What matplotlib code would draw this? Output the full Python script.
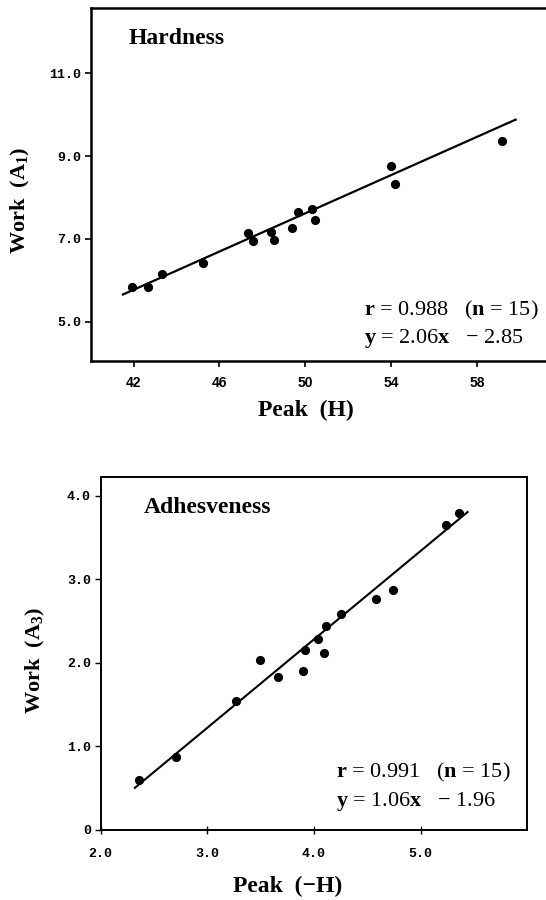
import numpy as np
import matplotlib
matplotlib.use("Agg")
import matplotlib.pyplot as plt

plt.rcParams['font.family'] = ['Liberation Serif', 'DejaVu Serif']
plt.rcParams['mathtext.fontset'] = 'custom'
plt.rcParams['mathtext.rm'] = 'Liberation Serif:bold'
plt.rcParams['mathtext.it'] = 'Liberation Serif:bold'
plt.rcParams['mathtext.bf'] = 'Liberation Serif:bold'

# ---------------- data: Hardness ----------------
hard_peak = [41.92, 42.68, 43.30, 45.24, 47.35, 47.56, 48.41, 48.52,
             49.40, 49.67, 50.33, 50.44, 54.00, 54.20, 59.17]
hard_work = [5.83, 5.85, 6.16, 6.42, 7.14, 6.96, 7.17, 6.97,
             7.26, 7.64, 7.72, 7.46, 8.77, 8.34, 9.36]
hard_fit_slope = 0.231
hard_fit_icpt = -3.93
hard_fit_range = [41.5, 59.8]
hard_xticks = [42, 46, 50, 54, 58]
hard_yticks = [5.0, 7.0, 9.0, 11.0]
hard_label = "Hardness"
hard_stats = [r"$\mathbf{r}$ = 0.988   ($\mathbf{n}$ = 15)",
              "$\\mathbf{y}$ = 2.06$\\mathbf{x}$   \u2212 2.85"]

# ---------------- data: Adhesveness ----------------
adh_peak = [2.36, 2.71, 3.27, 3.49, 3.66, 3.90, 3.92, 4.04,
            4.09, 4.11, 4.25, 4.58, 4.74, 5.24, 5.36]
adh_work = [0.59, 0.87, 1.54, 2.03, 1.83, 1.90, 2.15, 2.28,
            2.12, 2.44, 2.58, 2.76, 2.87, 3.65, 3.80]
adh_fit_slope = 1.06
adh_fit_icpt = -1.96
adh_fit_range = [2.32, 5.44]
adh_xticks = [2.0, 3.0, 4.0, 5.0]
adh_yticks = [0, 1.0, 2.0, 3.0, 4.0]
adh_ytick_labels = ["0", "1.0", "2.0", "3.0", "4.0"]
adh_label = "Adhesveness"
adh_stats = [r"$\mathbf{r}$ = 0.991   ($\mathbf{n}$ = 15)",
             "$\\mathbf{y}$ = 1.06$\\mathbf{x}$   \u2212 1.96"]

W, H = 546, 900
fig = plt.figure(figsize=(W / 100, H / 100), dpi=100)


def fx(x):
    return x / W


def fy(y):
    return 1 - y / H


def style_axes(ax, lw=1.6):
    for s in ax.spines.values():
        s.set_linewidth(lw)
        s.set_color('black')


# ---------------- top panel ----------------
ax1 = fig.add_axes([fx(90.7), fy(361), 22 * 21.46 / W, (361 - 8.5) / H])
ax1.set_xlim(40, 62)
ax1.set_ylim(4.05, 12.57)
style_axes(ax1, 1.8)
ax1.plot(hard_peak, hard_work, 'o', color='black', markersize=5.6)
xf = np.array(hard_fit_range)
ax1.plot(xf, hard_fit_slope * xf + hard_fit_icpt, '-', color='black', lw=1.6)
ax1.set_xticks(hard_xticks)
ax1.set_xticklabels([str(v) for v in hard_xticks],
                    family='Liberation Sans', fontweight='bold', fontsize=10)
ax1.set_yticks(hard_yticks)
ax1.set_yticklabels(["%.1f" % v for v in hard_yticks],
                    family='Liberation Mono', fontsize=9.5, fontweight='bold')
ax1.tick_params(axis='x', direction='out', length=4, width=1.2, pad=7)
ax1.tick_params(axis='y', direction='out', length=4, width=1.2, pad=3)

fig.text(fx(129), fy(44), hard_label, fontsize=17, fontweight='bold',
         ha='left', va='baseline')
fig.text(fx(364), fy(315), hard_stats[0], fontsize=16, ha='left', va='baseline')
fig.text(fx(364), fy(343), hard_stats[1], fontsize=16, ha='left', va='baseline')
fig.text(fx(306), fy(410), "Peak  (H)", fontsize=17, fontweight='bold',
         ha='center', va='center')
fig.text(fx(20.5), fy(200), "Work  (A$_{1}$)", fontsize=16, fontweight='bold',
         ha='center', va='center', rotation=90)

# ---------------- bottom panel ----------------
ax2 = fig.add_axes([fx(100.7), fy(829.5), (527.3 - 100.7) / W, (829.5 - 476.7) / H])
ax2.set_xlim(2.0, 6.0)
ax2.set_ylim(0, 4.23)
style_axes(ax2, 1.4)
ax2.plot(adh_peak, adh_work, 'o', color='black', markersize=5.6)
xf2 = np.array(adh_fit_range)
ax2.plot(xf2, adh_fit_slope * xf2 + adh_fit_icpt, '-', color='black', lw=1.5)
ax2.set_xticks(adh_xticks)
ax2.set_xticklabels(["%.1f" % v for v in adh_xticks],
                    family='Liberation Mono', fontsize=9.5, fontweight='bold')
ax2.set_yticks(adh_yticks)
ax2.set_yticklabels(adh_ytick_labels, family='Liberation Mono', fontsize=9.5,
                    fontweight='bold')
ax2.tick_params(axis='x', direction='inout', length=6, width=1.0, pad=10)
ax2.tick_params(axis='y', direction='out', length=4, width=1.0, pad=3)

fig.text(fx(143.5), fy(513), adh_label, fontsize=17, fontweight='bold',
         ha='left', va='baseline')
fig.text(fx(336), fy(777), adh_stats[0], fontsize=16, ha='left', va='baseline')
fig.text(fx(336), fy(806), adh_stats[1], fontsize=16, ha='left', va='baseline')
fig.text(fx(288), fy(886), "Peak  (\u2212H)", fontsize=17, fontweight='bold',
         ha='center', va='center')
fig.text(fx(35), fy(660), "Work  (A$_{3}$)", fontsize=16, fontweight='bold',
         ha='center', va='center', rotation=90)

fig.savefig("out.png", dpi=100)
